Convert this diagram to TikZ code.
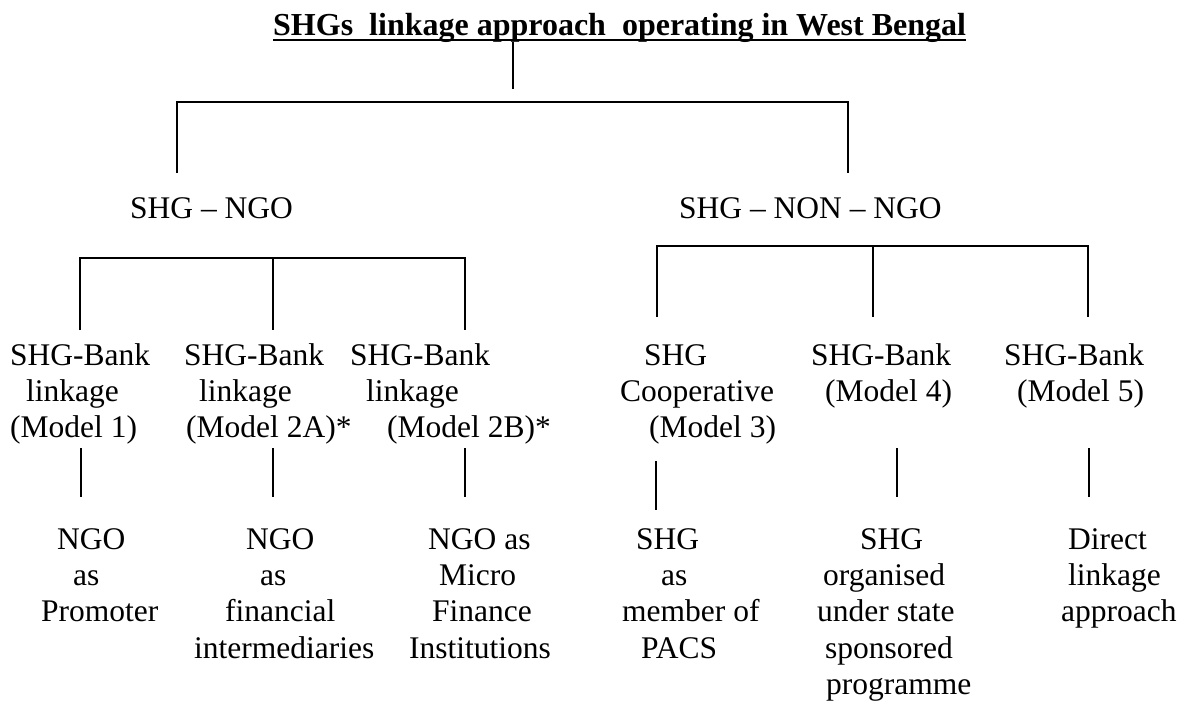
\documentclass[tikz,border=0pt]{standalone}
\usepackage{fontspec}
\setmainfont{Liberation Serif}
\newcommand{\bodyfs}{\fontsize{31.5}{36.3}\selectfont}
\newcommand{\titlefs}{\fontsize{32}{38}\selectfont\bfseries}
\newcommand{\lineat}[2]{\strut\hspace*{#1pt}#2}
\begin{document}
\begin{tikzpicture}[x=1pt,y=-1pt,
  blk/.style={anchor=north west, inner sep=0pt, align=left, font=\bodyfs},
  lbl/.style={anchor=base west, inner sep=0pt, font=\bodyfs},
  conn/.style={line width=2pt}]
\useasboundingbox (0,0) rectangle (1184,702);

% title
\node[anchor=base west, inner sep=0pt, font=\titlefs] (title) at (273,35)
  {SHGs\ \ linkage approach\ \ operating in West Bengal};
\draw[line width=2.6pt] ([yshift=-4.8pt]title.base west) -- ([yshift=-4.8pt]title.base east);

% level 1 labels
\node[lbl] (ngo) at (130,218) {SHG \textendash{} NGO};
\node[lbl] (nonngo) at (679,218) {SHG \textendash{} NON \textendash{} NGO};

% level 2 blocks
\node[blk] (m1)  at (10,339.6)   {\lineat{0}{SHG-Bank}\\\lineat{16}{linkage}\\\lineat{0}{(Model 1)}};
\node[blk] (m2a) at (184,339.6)  {\lineat{0}{SHG-Bank}\\\lineat{15}{linkage}\\\lineat{2}{(Model 2A)*}};
\node[blk] (m2b) at (350,339.6)  {\lineat{0}{SHG-Bank}\\\lineat{16}{linkage}\\\lineat{37}{(Model 2B)*}};
\node[blk] (m3)  at (620,339.6)  {\lineat{24}{SHG}\\\lineat{0}{Cooperative}\\\lineat{29}{(Model 3)}};
\node[blk] (m4)  at (811,339.6)  {\lineat{0}{SHG-Bank}\\\lineat{14}{(Model 4)}};
\node[blk] (m5)  at (1004,339.6) {\lineat{0}{SHG-Bank}\\\lineat{13}{(Model 5)}};

% level 3 blocks
\node[blk] (d1)  at (41,523.6)   {\lineat{16}{NGO}\\\lineat{32}{as}\\\lineat{0}{Promoter}};
\node[blk] (d2a) at (194,523.6)  {\lineat{52}{NGO}\\\lineat{66}{as}\\\lineat{31}{financial}\\\lineat{0}{intermediaries}};
\node[blk] (d2b) at (409,523.6)  {\lineat{19}{NGO as}\\\lineat{30}{Micro}\\\lineat{23}{Finance}\\\lineat{0}{Institutions}};
\node[blk] (d3)  at (622,523.6)  {\lineat{14}{SHG}\\\lineat{39}{as}\\\lineat{0}{member of}\\\lineat{19}{PACS}};
\node[blk] (d4)  at (817,523.6)  {\lineat{43}{SHG}\\\lineat{6}{organised}\\\lineat{0}{under state}\\\lineat{8}{sponsored}\\\lineat{9}{programme}};
\node[blk] (d5)  at (1061,523.6) {\lineat{7}{Direct}\\\lineat{7}{linkage}\\\lineat{0}{approach}};

% connector coordinates
\coordinate (st1) at (513,42);
\coordinate (st2) at (513,89);
\coordinate (ta) at (177,173);
\coordinate (tb) at (177,102);
\coordinate (tc) at (848,102);
\coordinate (td) at (848,173);

\coordinate (la) at (80,330);
\coordinate (lb) at (80,258);
\coordinate (lm1) at (273,258);
\coordinate (lm2) at (273,330);
\coordinate (lc) at (465,258);
\coordinate (ld) at (465,330);

\coordinate (ra) at (657,317);
\coordinate (rb) at (657,246);
\coordinate (rm1) at (873,246);
\coordinate (rm2) at (873,317);
\coordinate (rc) at (1088,246);
\coordinate (rd) at (1088,317);

\coordinate (v1a) at (81,448);   \coordinate (v1b) at (81,497);
\coordinate (v2a) at (273,448);  \coordinate (v2b) at (273,497);
\coordinate (v3a) at (465,448);  \coordinate (v3b) at (465,497);
\coordinate (v4a) at (656,461);  \coordinate (v4b) at (656,510);
\coordinate (v5a) at (897,448);  \coordinate (v5b) at (897,497);
\coordinate (v6a) at (1089,448); \coordinate (v6b) at (1089,497);

% connectors
\draw[conn] (st1) -- (st2);
\draw[conn] (ta) -- (tb) -- (tc) -- (td);
\draw[conn] (la) -- (lb) -- (lc) -- (ld);
\draw[conn] (lm1) -- (lm2);
\draw[conn] (ra) -- (rb) -- (rc) -- (rd);
\draw[conn] (rm1) -- (rm2);
\draw[conn] (v1a) -- (v1b);
\draw[conn] (v2a) -- (v2b);
\draw[conn] (v3a) -- (v3b);
\draw[conn] (v4a) -- (v4b);
\draw[conn] (v5a) -- (v5b);
\draw[conn] (v6a) -- (v6b);
\end{tikzpicture}
\end{document}
